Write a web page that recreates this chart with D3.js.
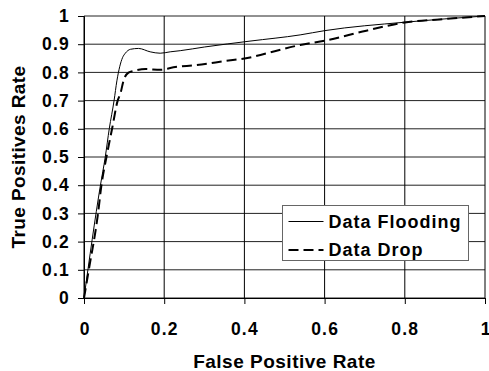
<!DOCTYPE html>
<html>
<head>
<meta charset="utf-8">
<script src="https://cdn.jsdelivr.net/npm/d3@7"></script>
<style>
  body { margin: 0; background: #fff; }
  svg text { font-family: Arial, "Liberation Sans", sans-serif; font-weight: bold; fill: #000; }
</style>
</head>
<body>
<div id="chart"></div>
<script>
// ROC curves
const floodingFpr = [0, 0.041, 0.053, 0.063, 0.075, 0.082, 0.089, 0.096, 0.103, 0.116, 0.136, 0.165, 0.19, 0.215, 0.24, 0.3, 0.414, 0.539, 0.6, 0.8, 1];
const floodingTpr = [0, 0.4, 0.5, 0.6, 0.7, 0.77, 0.82, 0.852, 0.868, 0.882, 0.885, 0.873, 0.868, 0.873, 0.877, 0.89, 0.911, 0.933, 0.948, 0.978, 1];

const dropFpr = [0, 0.012, 0.035, 0.0435, 0.056, 0.07, 0.084, 0.091, 0.099, 0.111, 0.124, 0.153, 0.19, 0.223, 0.28, 0.35, 0.414, 0.44, 0.539, 0.6, 0.704, 0.8, 0.887, 1];
const dropTpr = [0, 0.1, 0.3, 0.4, 0.5, 0.6, 0.7, 0.726, 0.773, 0.799, 0.805, 0.812, 0.809, 0.818, 0.826, 0.84, 0.853, 0.862, 0.897, 0.912, 0.948, 0.977, 0.988, 1];

const xTicks = [0, 0.2, 0.4, 0.6, 0.8, 1];
const yTicks = [0, 0.1, 0.2, 0.3, 0.4, 0.5, 0.6, 0.7, 0.8, 0.9, 1];
const seriesNames = ['Data Flooding', 'Data Drop'];

const width = 489, height = 371;
const margin = { top: 16, right: 4, bottom: 73, left: 84 };

const svg = d3.select('#chart').append('svg')
  .attr('width', width)
  .attr('height', height);

const x = d3.scaleLinear().domain([0, 1]).range([margin.left, width - margin.right]);
const y = d3.scaleLinear().domain([0, 1]).range([height - margin.bottom, margin.top]);

const fmt = d => d === 0 || d === 1 ? d3.format('d')(d) : d3.format('.1f')(d);

// grid
svg.append('g')
  .selectAll('line')
  .data(yTicks)
  .enter().append('line')
  .attr('x1', x(0)).attr('x2', x(1))
  .attr('y1', d => y(d)).attr('y2', d => y(d))
  .attr('stroke', '#222')
  .attr('stroke-width', 1);

svg.append('g')
  .selectAll('line')
  .data(xTicks)
  .enter().append('line')
  .attr('x1', d => x(d)).attr('x2', d => x(d))
  .attr('y1', y(0)).attr('y2', y(1))
  .attr('stroke', '#000')
  .attr('stroke-width', 1);

// axes
const xAxis = d3.axisBottom(x).tickValues(xTicks).tickSize(6).tickPadding(19).tickFormat(fmt);
const yAxis = d3.axisLeft(y).tickValues(yTicks).tickSize(6).tickPadding(8).tickFormat(fmt);

svg.append('g')
  .attr('transform', `translate(0,${y(0)})`)
  .call(xAxis)
  .call(g => g.select('.domain').attr('stroke', '#000'))
  .call(g => g.selectAll('.tick line').attr('stroke', '#000'))
  .selectAll('text')
  .style('font-size', '17.5px')
  .style('letter-spacing', d => d === 0 || d === 1 ? '0px' : '1.2px');

svg.append('g')
  .attr('transform', `translate(${x(0)},0)`)
  .call(yAxis)
  .call(g => g.select('.domain').attr('stroke', '#000'))
  .call(g => g.selectAll('.tick line').attr('stroke', '#000'))
  .selectAll('text')
  .style('font-size', '17.5px')
  .style('letter-spacing', '1.2px');

// axis titles
svg.append('text')
  .attr('x', (x(0) + x(1)) / 2)
  .attr('y', 368)
  .attr('text-anchor', 'middle')
  .style('font-size', '19px')
  .style('letter-spacing', '0.5px')
  .text('False Positive Rate');

svg.append('text')
  .attr('transform', `translate(25,${(y(0) + y(1)) / 2}) rotate(-90)`)
  .attr('text-anchor', 'middle')
  .style('font-size', '19px')
  .style('letter-spacing', '0.4px')
  .text('True Positives Rate');

// curves
const line = d3.line()
  .x(d => x(d[0]))
  .y(d => y(d[1]))
  .curve(d3.curveMonotoneX);

const flooding = floodingFpr.map((v, i) => [v, floodingTpr[i]]);
const drop = dropFpr.map((v, i) => [v, dropTpr[i]]);

svg.append('path')
  .datum(flooding)
  .attr('d', line)
  .attr('fill', 'none')
  .attr('stroke', '#000')
  .attr('stroke-width', 1);

svg.append('path')
  .datum(drop)
  .attr('d', line)
  .attr('fill', 'none')
  .attr('stroke', '#000')
  .attr('stroke-width', 2)
  .attr('stroke-dasharray', '10,5');

// legend
const legend = svg.append('g').attr('transform', 'translate(282.5,205.5)');
legend.append('rect')
  .attr('width', 186)
  .attr('height', 55)
  .attr('fill', '#fff')
  .attr('stroke', '#666')
  .attr('stroke-width', 1);

const items = legend.selectAll('.item')
  .data(seriesNames)
  .enter().append('g')
  .attr('class', 'item')
  .attr('transform', (_, i) => `translate(0,${16 + i * 28.5})`);

items.append('line')
  .attr('x1', 6).attr('x2', 41)
  .attr('y1', 0).attr('y2', 0)
  .attr('stroke', '#000')
  .attr('stroke-width', (d, i) => i === 0 ? 1 : 2)
  .attr('stroke-dasharray', (d, i) => i === 0 ? null : '10,5');

items.append('text')
  .attr('x', 46)
  .attr('y', 0)
  .attr('dy', '0.35em')
  .style('font-size', '18px')
  .style('letter-spacing', '1px')
  .text(d => d);
</script>
</body>
</html>
